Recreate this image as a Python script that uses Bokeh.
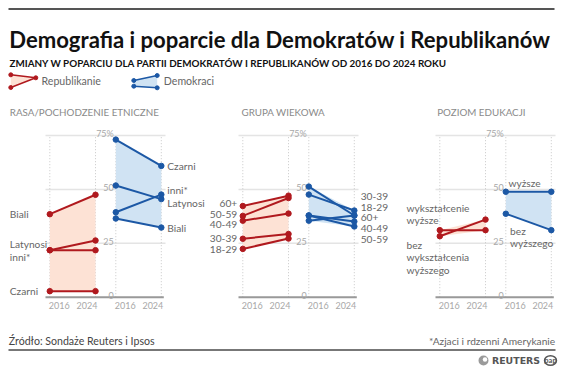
from bokeh.plotting import figure
from bokeh.models import Range1d
from bokeh.core.properties import value
from bokeh.embed import file_html
from bokeh.resources import INLINE

# ---------------- data ----------------
years = ["2016", "2024"]
y_ticks = [0, 25, 50, 75]
y_tick_labels = ["0", "25", "50", "75%"]

rasa_labels = ["Biali", "Latynosi", "inni*", "Czarni"]
rasa_rep_2016 = [38.5, 21.8, 21.8, 2.8]
rasa_rep_2024 = [47.5, 26.3, 21.8, 2.8]
rasa_dem_2016 = [36.5, 51.8, 39.4, 73.1]
rasa_dem_2024 = [32.3, 45.5, 47.6, 60.9]

wiek_labels = ["18-29", "30-39", "40-49", "50-59", "60+"]
wiek_rep_2016 = [22.4, 27.1, 35.5, 37.7, 42.3]
wiek_rep_2024 = [27.2, 29.3, 38.8, 46.0, 47.1]
wiek_dem_2016 = [51.3, 47.6, 37.9, 37.9, 35.5]
wiek_dem_2024 = [37.9, 40.2, 35.1, 32.8, 37.9]

edu_labels_rep = ["wykształcenie\nwyższe", "bez\nwykształcenia\nwyższego"]
edu_labels_dem = ["wyższe", "bez\nwyższego"]
edu_rep_2016 = [31.1, 28.3]
edu_rep_2024 = [31.1, 36.0]
edu_dem_2016 = [48.9, 38.7]
edu_dem_2024 = [48.9, 31.1]

panel_titles = ["RASA/POCHODZENIE ETNICZNE", "GRUPA WIEKOWA", "POZIOM EDUKACJI"]
title = "Demografia i poparcie dla Demokratów i Republikanów"
subtitle = "ZMIANY W POPARCIU DLA PARTII DEMOKRATÓW I REPUBLIKANÓW OD 2016 DO 2024 ROKU"
legend_labels = ["Republikanie", "Demokraci"]
source = "Źródło: Sondaże Reuters i Ipsos"
footnote = "*Azjaci i rdzenni Amerykanie"

# ---------------- style ----------------
FONT = "Lato"
RED = "#b0191e"
BLUE = "#1c58a5"
RED_FILL = "#fde2d5"
BLUE_FILL = "#d0e3f3"
GRID = "#e4e4e4"
LABEL = "#666666"
TICK = "#a8a8a8"
LS = 10.2  # label font size

W, H = 564, 370
Y0, K = 296.7, 2.156          # page y of 0 %, pixels per 1 %


def Y(py):
    return (Y0 - py) / K


p = figure(width=W, height=H, x_range=Range1d(0, W), y_range=Range1d(Y(H), Y(0)),
           output_backend="svg", toolbar_location=None, min_border=0,
           x_axis_location=None, y_axis_location=None)
p.grid.visible = False
p.outline_line_color = None
p.background_fill_color = "white"
p.border_fill_color = "white"


def txt(x, y, s, size, color, align="left", baseline="middle", style="normal", lh=1.2, font=FONT):
    p.text(x=[x], y=[y], text=[s], text_font=value(font), text_font_size=value(f"{size}px"),
           text_color=color, text_align=align, text_baseline=baseline,
           text_font_style=style, text_line_height=lh)


def spread(vals, gap):
    order = sorted(range(len(vals)), key=lambda i: -vals[i])
    pos = [vals[i] for i in order]
    for _ in range(300):
        for j in range(1, len(pos)):
            d = pos[j - 1] - pos[j]
            if d < gap:
                s = (gap - d) / 2
                pos[j - 1] += s
                pos[j] -= s
    out = [0] * len(vals)
    for k, i in enumerate(order):
        out[i] = pos[k]
    return out


# ---------------- header ----------------
p.segment(x0=[8], y0=[Y(8.5)], x1=[554], y1=[Y(8.5)], line_color="#555555", line_width=2)
txt(8.8, Y(38.5), title, 22.1, "#111111", baseline="alphabetic", style="bold")
txt(9, Y(62), subtitle, 9.85, "#111111", baseline="alphabetic", style="bold")

# legend icons
p.patch(x=[10.3, 35.3, 10.3], y=[Y(74.3), Y(77.3), Y(87)], fill_color=RED_FILL, line_color=None)
p.line(x=[10.3, 35.3, 10.3], y=[Y(74.3), Y(77.3), Y(87)], line_color=RED, line_width=1.5)
p.scatter(x=[10.3, 35.3, 10.3], y=[Y(74.3), Y(77.3), Y(87)], size=4, color=RED)
txt(41, Y(80.5), legend_labels[0], 10.6, LABEL)

p.patch(x=[133.3, 156.7, 156.7, 133.3], y=[Y(80), Y(75), Y(87.3), Y(85.7)], fill_color=BLUE_FILL, line_color=None)
p.multi_line(xs=[[133.3, 156.7], [133.3, 156.7]], ys=[[Y(80), Y(75)], [Y(85.7), Y(87.3)]],
             line_color=BLUE, line_width=1.5)
p.scatter(x=[133.3, 156.7, 133.3, 156.7], y=[Y(80), Y(75), Y(85.7), Y(87.3)], size=4, color=BLUE)
txt(163.3, Y(80.5), legend_labels[1], 10.6, LABEL)

# ---------------- panels ----------------
bases = [49.3, 242.3, 439.3]
offs = [0, 45.7, 66.0, 111.5]
title_x = [9.3, 241, 436.7]

panels = [
    (rasa_labels, rasa_rep_2016, rasa_rep_2024, rasa_dem_2016, rasa_dem_2024),
    (wiek_labels, wiek_rep_2016, wiek_rep_2024, wiek_dem_2016, wiek_dem_2024),
    (None, edu_rep_2016, edu_rep_2024, edu_dem_2016, edu_dem_2024),
]

for k, (labels, r16, r24, d16, d24) in enumerate(panels):
    bx = bases[k]
    xs = [bx + o for o in offs]
    txt(title_x[k], Y(111.7), panel_titles[k], 9.8, "#8a8a8a")

    # grid
    for t in y_ticks[1:]:
        p.segment(x0=[bx - 4.3], y0=[t], x1=[bx + 115.7], y1=[t], line_color=GRID, line_width=1.5)
    for x in xs:
        p.segment(x0=[x], y0=[0], x1=[x], y1=[75], line_color="#c8c8c8", line_width=1, line_dash="1 2")

    # bands
    p.patch(x=[xs[0], xs[1], xs[1], xs[0]], y=[max(r16), max(r24), min(r24), min(r16)],
            fill_color=RED_FILL, line_color=None)
    p.patch(x=[xs[2], xs[3], xs[3], xs[2]], y=[max(d16), max(d24), min(d24), min(d16)],
            fill_color=BLUE_FILL, line_color=None)

    # axis
    p.segment(x0=[bx - 4.3], y0=[0], x1=[bx + 114], y1=[0], line_color="#999999", line_width=2)
    for t, lab in zip(y_ticks, y_tick_labels):
        txt(bx + 64, t + 0.9, lab, 9, TICK, align="right", baseline="alphabetic")
    for i, x in enumerate(xs):
        yr = years[i % 2]
        if i % 2 == 0:
            txt(x - 1, Y(305), yr, 9, TICK, align="left")
        else:
            txt(x + 2, Y(305), yr, 9, TICK, align="right")

    # lines
    n = len(r16)
    p.multi_line(xs=[[xs[0], xs[1]] for _ in range(n)], ys=[[a, b] for a, b in zip(r16, r24)],
                 line_color=RED, line_width=2)
    p.scatter(x=[xs[0]] * n + [xs[1]] * n, y=list(r16) + list(r24), size=5.5, color=RED)
    p.multi_line(xs=[[xs[2], xs[3]] for _ in range(n)], ys=[[a, b] for a, b in zip(d16, d24)],
                 line_color=BLUE, line_width=2)
    p.scatter(x=[xs[2]] * n + [xs[3]] * n, y=list(d16) + list(d24), size=5.5, color=BLUE)

    # labels
    if k == 0:
        ly = spread(r16, 6.0)
        for lab, yv in zip(labels, ly):
            txt(9.3, yv, lab, LS, LABEL)
        ry = spread(d24, 6.0)
        for lab, yv in zip(labels, ry):
            txt(xs[3] + 6, yv, lab, LS, LABEL)
    elif k == 1:
        ly = spread(r16, 4.9)
        for lab, yv in zip(labels, ly):
            txt(xs[0] - 5.6, yv, lab, LS, LABEL, align="right")
        ry = spread(d24, 4.9)
        for lab, yv in zip(labels, ry):
            txt(xs[3] + 6.4, yv, lab, LS, LABEL)
    else:
        txt(xs[0] - 33.3, r16[0] + 1.7, edu_labels_rep[0], LS, LABEL, baseline="bottom", lh=1.05)
        txt(xs[0] - 33.3, r16[1] - 1.2, edu_labels_rep[1], LS, LABEL, baseline="top", lh=1.05)
        txt(xs[2] + 2.6, d16[0] + 1.5, edu_labels_dem[0], LS, LABEL, baseline="bottom", lh=1.05)
        txt(xs[2] + 4.3, d16[1] - 5.0, edu_labels_dem[1], LS, LABEL, baseline="top", lh=1.05)

# ---------------- footer ----------------
txt(8.3, Y(340.7), source, 10.6, "#444444")
txt(555, Y(340.5), footnote, 10.2, "#666666", align="right")
p.segment(x0=[8], y0=[Y(349.5)], x1=[555], y1=[Y(349.5)], line_color="#777777", line_width=2)
p.scatter(x=[483], y=[Y(360)], size=10, fill_color="#9a9a9a", line_color=None)
p.scatter(x=[484.5], y=[Y(359)], size=4.5, fill_color="white", line_color=None)
txt(491.5, Y(360.3), "REUTERS", 9.4, "#555555", style="bold", font="DejaVu Sans")
p.ellipse(x=[550], y=[Y(360)], width=12, height=9.5 / K, fill_color="white",
          line_color="#555555", line_width=1.4)
txt(550, Y(360.3), "pap", 7.5, "#555555", align="center", style="bold")

open("out.html", "w").write(file_html(p, INLINE))
